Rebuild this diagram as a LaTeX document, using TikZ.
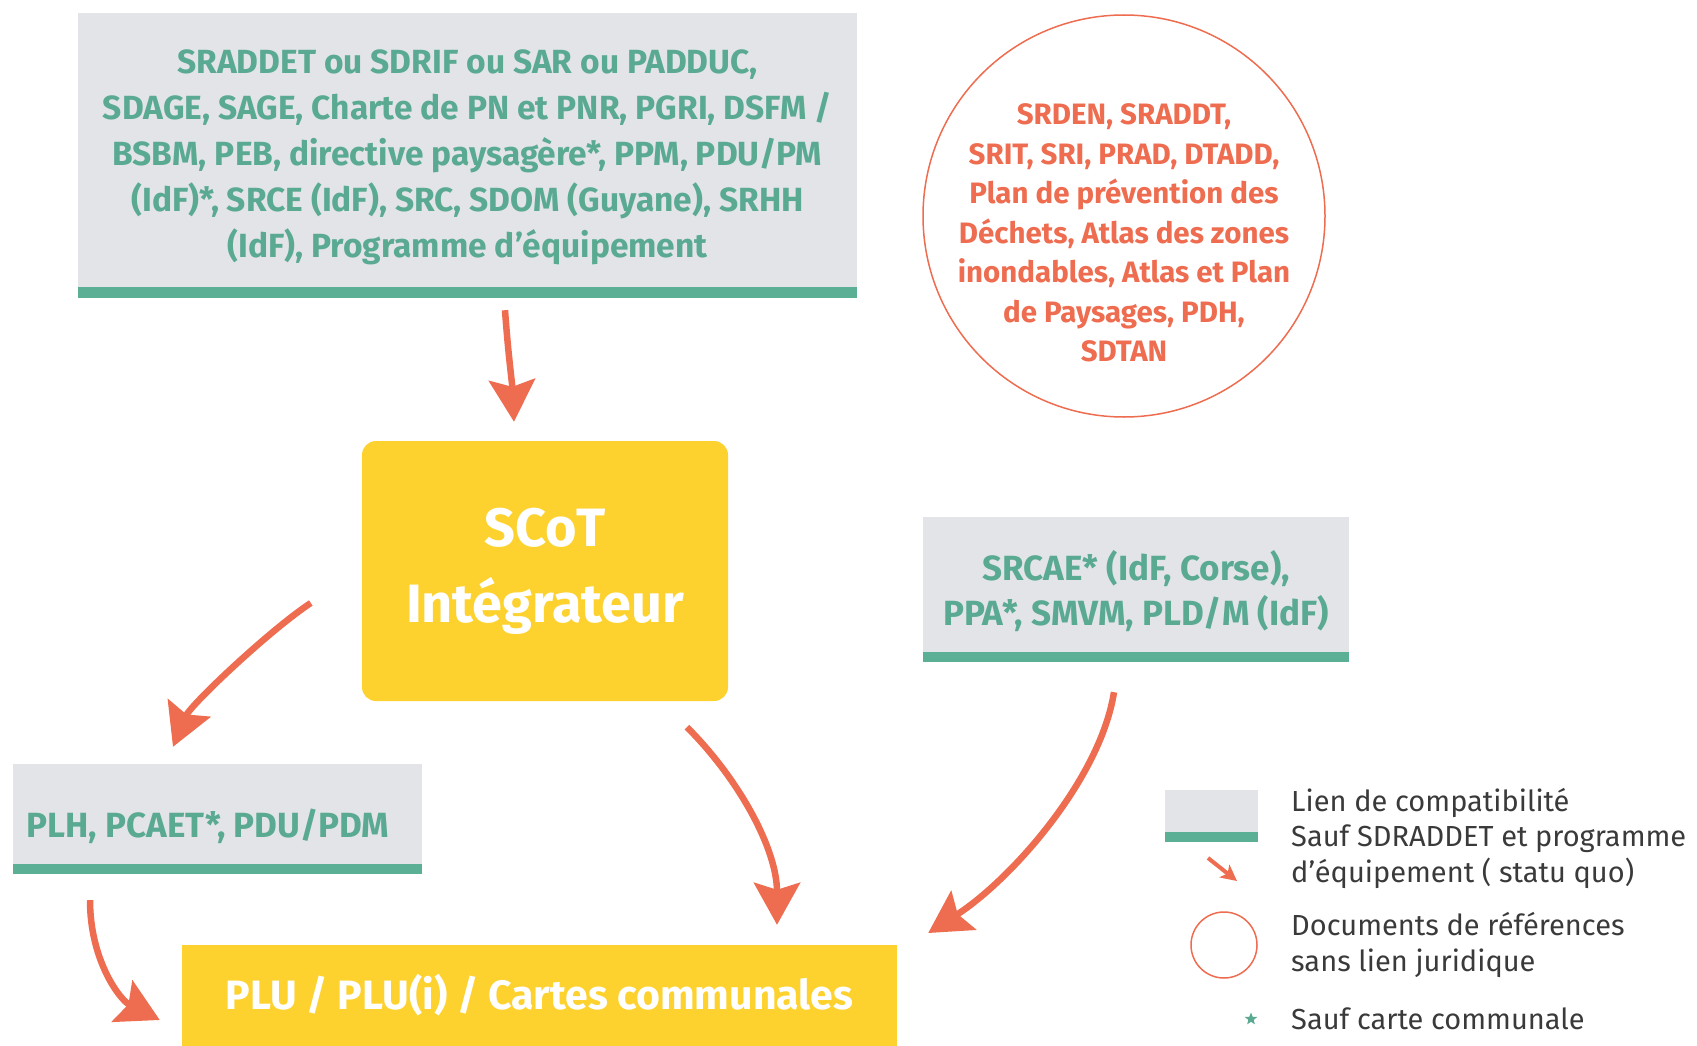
\documentclass[tikz,border=0pt]{standalone}
\usepackage{fontspec}
\setmainfont{Fira Sans}
\usetikzlibrary{arrows.meta,calc,shapes.geometric}
\definecolor{boxgrey}{HTML}{E3E4E8}
\definecolor{bargreen}{HTML}{5BAF94}
\definecolor{tealtxt}{HTML}{5AAA92}
\definecolor{orangeA}{HTML}{EE6C4F}
\definecolor{yellowA}{HTML}{FDD22F}
\definecolor{legtxt}{HTML}{3A3A3A}
\tikzset{
  greybox/.style={fill=boxgrey, inner sep=0pt},
  greytxt/.style={align=center, text=tealtxt, inner sep=0pt},
  yellowbox/.style={fill=yellowA, inner sep=0pt, align=center, text=white, font=\bfseries},
  arr/.style={draw=orangeA, line width=6.5pt, -{Stealth[length=42pt,width=46pt,inset=7pt]}},
  smallarr/.style={draw=orangeA, line width=4pt, -{Stealth[length=16pt,width=16pt,inset=4pt]}},
  legtext/.style={anchor=west, text=legtxt, inner sep=0pt, align=left}
}
\begin{document}
\begin{tikzpicture}[x=1pt,y=-1pt]
\useasboundingbox (0,0) rectangle (1697,1046);
% top box
\node[greybox, minimum width=779pt, minimum height=285pt] (top) at (467.5,155.5) {};
\fill[bargreen] (top.south west) rectangle ([yshift=11pt]top.south east);
\node[greytxt, font=\bfseries\fontsize{33.5}{46}\selectfont] (toptxt) at (467.5,157)
  {SRADDET ou SDRIF ou SAR ou PADDUC,\\SDAGE, SAGE, Charte de PN et PNR, PGRI, DSFM /\\BSBM, PEB, directive paysagère*, PPM, PDU/PM\\(IdF)*, SRCE (IdF), SRC, SDOM (Guyane), SRHH\\(IdF), Programme d’équipement};
% circle
\node[circle, draw=orangeA, line width=1.5pt, minimum size=402pt, inner sep=0pt] (ref) at (1124,216) {};
\node[align=center, inner sep=0pt, text=orangeA, font=\bfseries\fontsize{29.5}{39.5}\selectfont] (reftxt) at ($(ref.center)+(0,17)$)
  {SRDEN, SRADDT,\\SRIT, SRI, PRAD, DTADD,\\Plan de prévention des\\Déchets, Atlas des zones\\inondables, Atlas et Plan\\de Paysages, PDH,\\SDTAN};
% SCoT
\node[yellowbox, rounded corners=14pt, minimum width=366pt, minimum height=260pt,
  font=\bfseries\fontsize{54}{76}\selectfont] (scot) at (545,571) {SCoT\\Intégrateur};
% SRCAE
\node[greybox, minimum width=426pt, minimum height=145pt] (srcae) at (1136,589.5) {};
\fill[bargreen] (srcae.south west) rectangle ([yshift=10pt]srcae.south east);
\node[greytxt, font=\bfseries\fontsize{35}{45}\selectfont] (srcaetxt) at (1136,591)
  {SRCAE* (IdF, Corse),\\PPA*, SMVM, PLD/M (IdF)};
% PLH
\node[greybox, minimum width=409pt, minimum height=110pt] (plh) at (217.5,819) {};
\fill[bargreen] (plh.south west) rectangle ([yshift=10pt]plh.south east);
\node[greytxt, font=\bfseries\fontsize{35}{40}\selectfont] (plhtxt) at (208,826) {PLH, PCAET*, PDU/PDM};
% PLU
\node[yellowbox, minimum width=715pt, minimum height=101pt,
  font=\bfseries\fontsize{41}{46}\selectfont] (plu) at (539.5,995.5)
  {PLU / PLU(i) / Cartes communales};
% arrows
\draw[arr] ($(top.south)+(37.5,12)$) .. controls ($(top.south)+(41,60)$) and ($(scot.north)+(-33,-60)$) .. ($(scot.north)+(-31,-19)$);
\draw[arr] ($(scot.west)+(-51,32)$) .. controls ($(scot.west)+(-92,59)$) and ($(plh.north)+(-27,-59)$) .. ($(plh.north)+(-44.5,-17)$);
\draw[arr] ($(scot.south)+(142,26)$) .. controls ($(scot.south)+(195,79)$) and ($(plu.north)+(237.5,-95)$) .. ($(plu.north)+(237.5,-20)$);
\draw[arr] ($(srcae.south)+(-22,30)$) .. controls ($(srcae.south)+(-36,118)$) and ($(plu.east)+(113,-115)$) .. ($(plu.east)+(31,-62.5)$);
\draw[arr] ($(plh.south)+(-127.5,26)$) .. controls ($(plh.south)+(-127.5,86)$) and ($(plu.west)+(-62,4.5)$) .. ($(plu.west)+(-22,24.5)$);
% legend
\node[fill=boxgrey, minimum width=93pt, minimum height=52pt, inner sep=0pt] (lgbox) at (1211.5,816) {};
\fill[bargreen] (lgbox.south west) rectangle ([yshift=10pt]lgbox.south east);
\coordinate (la1) at (1208,858);
\coordinate (la2) at (1237,881);
\draw[smallarr] (la1) -- (la2);
\node[circle, draw=orangeA, line width=1.5pt, minimum size=66pt, inner sep=0pt] (lgcirc) at (1224,945) {};
\node[star, star points=5, star point ratio=2.3, fill=tealtxt, inner sep=0pt, minimum size=13pt] (lgstar) at (1251,1019) {};
\node[legtext, font=\fontsize{29}{35.5}\selectfont] (lg1) at (1291,838)
  {Lien de compatibilité\\Sauf SDRADDET et programme\\d’équipement ( statu quo)};
\node[legtext, font=\fontsize{29}{35.5}\selectfont] (lg2) at (1291,945)
  {Documents de références\\sans lien juridique};
\node[legtext, font=\fontsize{29}{29}\selectfont] (lg3) at (1291,1019) {Sauf carte communale};
\end{tikzpicture}
\end{document}
